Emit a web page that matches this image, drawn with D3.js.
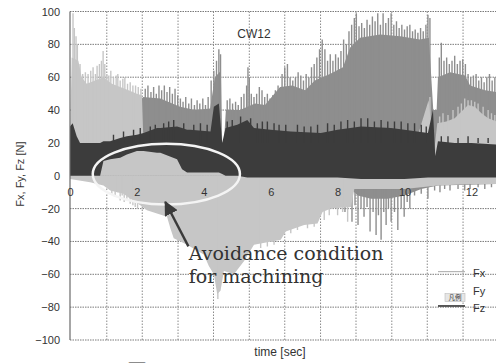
<!DOCTYPE html>
<html>
<head>
<meta charset="utf-8">
<script src="https://cdn.jsdelivr.net/npm/d3@7"></script>
<style>
  body { margin: 0; background: #fff; }
  svg { display: block; }
  text { font-family: Arial, "Liberation Sans", sans-serif; fill: #333; }
</style>
</head>
<body>
<svg id="chart" width="496" height="363"></svg>
<script>
// tick labels
const yTicks = [100, 80, 60, 40, 20, 0, -20, -40, -60, -80, -100]
const xTicks = [0, 2, 4, 6, 8, 10, 12]
// vertical grid lines (they do not fall on the labelled ticks in the original)
const gridTimes = [1.1, 2.16, 3.23, 4.29, 5.36, 6.42, 7.49, 8.55, 9.62, 10.68, 11.75]

// Fx envelope [time, N]
const fxHigh = [[0, 20], [0.3, 40], [2.1, 45], [2.18, 48], [2.7, 47], [3.29, 42], [3.74, 40], [4.19, 41],
  [4.33, 60], [4.51, 64], [4.55, 20], [4.6, 20], [4.66, 40], [5.08, 40], [5.53, 44], [5.83, 43],
  [6.28, 54], [6.64, 55], [7.03, 52], [7.32, 58], [7.77, 62], [8.16, 66], [8.37, 78], [8.67, 84],
  [9.27, 86], [9.87, 85], [10.46, 83], [10.73, 84], [10.8, 60], [10.86, 40], [10.96, 40], [11.0, 60],
  [11.36, 63], [11.81, 61], [11.96, 55], [12.41, 52], [12.75, 51]]
const fxLow = [[0, 0], [8.2, 0], [8.4, -8], [8.6, -12], [9.0, -14], [9.5, -14], [10.0, -12],
  [10.5, -8], [11.0, -6], [12.75, -5]]
const fxPeaks = [[2.25, 53], [2.33, 55], [2.42, 51], [2.5, 54], [2.58, 50], [2.66, 55], [2.74, 52],
  [2.82, 55], [2.9, 51], [2.98, 54], [3.06, 50], [3.14, 53], [3.22, 49], [3.3, 47], [3.38, 45],
  [3.46, 48], [3.55, 44], [3.63, 47], [3.72, 43], [3.8, 46], [3.88, 44], [3.97, 47], [4.05, 43],
  [4.13, 48], [4.22, 58], [4.3, 64], [4.38, 70], [4.45, 77], [4.5, 74], [4.7, 46], [4.78, 47],
  [4.86, 44], [4.95, 45], [5.03, 43], [5.12, 48], [5.2, 50], [5.28, 55], [5.32, 66], [5.36, 60],
  [5.42, 50], [5.5, 48], [5.58, 50], [5.66, 54], [5.74, 52], [5.82, 48], [5.9, 50], [5.98, 47],
  [6.06, 49], [6.14, 52], [6.22, 55], [6.34, 62], [6.42, 66], [6.5, 68], [6.58, 60], [6.66, 58],
  [6.74, 60], [6.82, 63], [6.9, 61], [6.98, 58], [7.06, 62], [7.14, 60], [7.22, 66], [7.3, 68],
  [7.38, 72], [7.46, 77], [7.54, 83], [7.62, 77], [7.7, 70], [7.78, 74], [7.86, 70], [7.94, 74],
  [8.02, 72], [8.1, 76], [8.18, 83], [8.26, 80], [8.34, 88], [8.42, 92], [8.5, 96], [8.56, 99],
  [8.64, 91], [8.72, 93], [8.8, 90], [8.88, 95], [8.96, 92], [9.04, 97], [9.12, 94], [9.2, 99],
  [9.28, 92], [9.36, 99], [9.44, 93], [9.52, 96], [9.6, 99], [9.68, 92], [9.76, 94], [9.84, 90],
  [9.92, 92], [10.0, 89], [10.08, 91], [10.16, 92], [10.24, 88], [10.32, 89], [10.4, 87],
  [10.48, 90], [10.56, 88], [10.64, 92], [10.7, 98], [10.76, 96], [11.04, 72], [11.1, 81],
  [11.18, 70], [11.26, 72], [11.34, 68], [11.42, 70], [11.5, 73], [11.58, 68], [11.66, 70],
  [11.74, 71], [11.82, 68], [11.9, 62], [11.98, 60], [12.06, 61], [12.14, 62], [12.22, 58],
  [12.3, 60], [12.38, 57], [12.46, 60], [12.54, 62], [12.62, 58], [12.7, 60]]
const fxDips = [[8.22, -22], [8.3, -16], [8.43, -28], [8.52, -18], [8.61, -30], [8.7, -20],
  [8.79, -25], [8.88, -19], [8.97, -34], [9.06, -22], [9.15, -36], [9.22, -24], [9.3, -39],
  [9.38, -22], [9.45, -30], [9.52, -20], [9.6, -28], [9.7, -22], [9.8, -33], [9.9, -20],
  [9.99, -25], [10.08, -16], [10.16, -20], [10.3, -12], [10.5, -11], [10.7, -14], [10.9, -9],
  [11.06, -10], [11.2, -8], [11.36, -9], [11.6, -8], [11.8, -9], [11.96, -8], [12.2, -7],
  [12.4, -8], [12.6, -7]]

// Fy envelope [time, N]
const fyHigh = [[0, 20], [0.05, 72], [0.25, 70], [0.35, 60], [0.5, 56], [0.75, 58], [1.0, 60],
  [1.25, 56], [1.5, 54], [1.75, 52], [2.0, 50], [2.15, 49], [2.2, 17], [10.3, 17], [10.45, 28],
  [10.6, 38], [10.72, 46], [10.8, 30], [10.86, 10], [10.98, 32], [11.25, 33], [11.5, 35],
  [11.75, 40], [11.9, 43], [12.1, 42], [12.3, 38], [12.5, 35], [12.75, 33]]
const fyLow = [[0, -2], [0.6, -4], [1.0, -6], [1.2, -9], [1.6, -11], [1.8, -14], [2.1, -18],
  [2.3, -21], [2.9, -25], [3.0, -32], [3.1, -38], [3.5, -42], [4.0, -48], [4.15, -55], [4.3, -60],
  [4.4, -72], [4.5, -70], [4.6, -58], [4.9, -60], [5.2, -52], [5.5, -42], [6.3, -39], [6.45, -34],
  [7.0, -30], [7.4, -29], [7.55, -22], [7.8, -20], [8.4, -19], [8.5, -8], [10.0, -8], [11.0, -6],
  [12.0, -5], [12.75, -5]]
const fyPeaks = [[0.09, 99], [0.13, 90], [0.18, 85], [0.22, 80], [0.3, 68], [0.38, 62], [0.46, 63],
  [0.54, 62], [0.62, 64], [0.69, 66], [0.76, 62], [0.81, 67], [0.88, 68], [0.94, 70], [0.99, 76],
  [1.04, 68], [1.1, 62], [1.16, 61], [1.22, 64], [1.3, 60], [1.38, 61], [1.43, 62], [1.5, 58],
  [1.58, 59], [1.64, 60], [1.72, 56], [1.8, 57], [1.88, 55], [1.96, 55], [2.04, 54], [2.12, 53],
  [10.76, 48], [11.05, 36], [11.15, 38], [11.3, 37], [11.45, 40], [11.6, 42], [11.7, 44],
  [11.8, 47], [11.9, 46], [12.0, 46], [12.1, 45], [12.2, 44], [12.35, 42], [12.5, 40],
  [12.6, 38], [12.7, 37]]
const fyDips = [[1.25, -11], [1.35, -13], [1.42, -10], [1.5, -15], [1.56, -12], [1.62, -16],
  [1.7, -14], [1.8, -17], [1.88, -18], [1.95, -19], [2.02, -20], [4.42, -75], [5.7, -44],
  [5.9, -43], [6.1, -42], [6.6, -35], [6.8, -33], [7.1, -32], [7.3, -31], [7.6, -27], [7.75, -24],
  [8.0, -24], [8.15, -22], [8.3, -28]]

// Fz band [time], [high], [low]
const fzTime = [0, 0.08, 0.2, 0.3, 0.75, 0.9, 1.0, 1.2, 1.5, 1.7, 2.0, 2.2, 2.6, 2.7, 3.2, 3.35,
  3.5, 3.6, 4.2, 4.3, 4.45, 4.55, 4.65, 5.0, 5.3, 5.5, 6.0, 6.6, 7.5, 8.0, 8.7, 9.6, 10.0, 10.7,
  10.85, 10.92, 11.0, 11.5, 12.0, 12.75]
const fzHigh = [30, 32, 24, 20, 20, 20, 21, 21, 23, 24, 25, 26, 29, 29, 30, 29, 28, 28, 27, 42,
  44, 20, 29, 31, 34, 29, 28, 27, 26, 28, 30, 29, 28, 26, 40, 12, 21, 20, 20, 19]
const fzLow = [0, 0, 0, 0, 0, 0, 9, 10, 11, 13, 15, 15, 14, 14, 10, 4, 2, 2, 2, 2, 2, 1, 0, 0, -1,
  -1, -1, -1, -1, -1, -2, -2, -2, -1, -1, -1, -1, -1, -1, -1]
const fzPeaks = [[1.3, 25], [1.6, 27], [1.9, 28], [2.1, 29], [2.4, 30], [2.55, 31], [2.8, 32],
  [2.95, 33], [3.1, 34], [3.4, 32], [3.7, 31], [3.9, 32], [4.1, 31], [4.7, 33], [4.85, 34],
  [5.1, 36], [5.4, 35], [5.6, 32], [5.75, 33], [5.9, 33], [6.1, 32], [6.25, 31], [6.45, 31],
  [6.8, 31], [7.0, 30], [7.2, 30], [7.4, 31], [7.7, 32], [7.9, 31], [8.1, 33], [8.3, 34],
  [8.5, 33], [8.7, 35], [8.9, 35], [9.1, 33], [9.3, 34], [9.5, 33], [9.7, 33], [9.9, 33],
  [10.1, 32], [10.3, 32], [10.5, 31], [10.65, 30], [11.1, 24], [11.3, 24], [11.6, 23],
  [11.9, 24], [12.2, 23], [12.5, 23]]

const series = ['Fx', 'Fy', 'Fz']
const colors = { Fx: '#8e8e8e', Fy: '#c6c6c6', Fz: '#3c3c3c' }

const svg = d3.select('#chart')
const plot = { left: 70, right: 496.5, top: 11.5, bottom: 340 }

const x = d3.scaleLinear().domain([0, 12.75]).range([plot.left, plot.right])
const y = d3.scaleLinear().domain([-100, 100]).range([plot.bottom, plot.top])

svg.append('clipPath').attr('id', 'clip')
  .append('rect')
  .attr('x', plot.left).attr('y', plot.top)
  .attr('width', plot.right - plot.left).attr('height', plot.bottom - plot.top)

// grid
const grid = svg.append('g')
grid.selectAll('.hgrid')
  .data(yTicks)
  .join('line')
  .attr('x1', plot.left).attr('x2', plot.right)
  .attr('y1', (d) => y(d)).attr('y2', (d) => y(d))
  .attr('stroke', '#7a7a7a')
  .attr('stroke-width', 1)
  .attr('stroke-dasharray', '1.5,1')
grid.selectAll('.vgrid')
  .data(gridTimes)
  .join('line')
  .attr('x1', (d) => x(d)).attr('x2', (d) => x(d))
  .attr('y1', plot.top).attr('y2', plot.bottom)
  .attr('stroke', '#8a8a8a')
  .attr('stroke-width', 1)
  .attr('stroke-dasharray', '1.5,1.5')

const data = svg.append('g').attr('clip-path', 'url(#clip)')

const fromZero = d3.area()
  .x((d) => x(d[0]))
  .y0(y(0))
  .y1((d) => y(d[1]))

const spikes = (g, pts, color, base) => {
  g.selectAll(null)
    .data(pts)
    .join('line')
    .attr('x1', (d) => x(d[0])).attr('x2', (d) => x(d[0]))
    .attr('y1', y(base)).attr('y2', (d) => y(d[1]))
    .attr('stroke', color)
    .attr('stroke-width', 1.4)
}

// Fx
data.append('path').datum(fxHigh).attr('fill', colors.Fx).attr('d', fromZero)
data.append('path').datum(fxLow).attr('fill', colors.Fx).attr('d', fromZero)
spikes(data, fxPeaks, colors.Fx, 0)
spikes(data, fxDips, colors.Fx, 0)

// Fy
data.append('path').datum(fyHigh).attr('fill', colors.Fy).attr('d', fromZero)
data.append('path').datum(fyLow).attr('fill', colors.Fy).attr('d', fromZero)
spikes(data, fyPeaks, colors.Fy, 20)
spikes(data, fyDips, colors.Fy, 0)

// Fz band
const fzBand = d3.area()
  .x((d, i) => x(fzTime[i]))
  .y0((d, i) => y(fzLow[i]))
  .y1((d) => y(d))
data.append('path').datum(fzHigh).attr('fill', colors.Fz).attr('d', fzBand)
spikes(data, fzPeaks, colors.Fz, 20)

// frame
svg.append('line')
  .attr('x1', plot.left).attr('x2', plot.left)
  .attr('y1', plot.top).attr('y2', plot.bottom)
  .attr('stroke', '#6a6a6a').attr('stroke-width', 1.2)

// y axis labels
svg.append('g')
  .attr('transform', `translate(${plot.left},0)`)
  .call(d3.axisLeft(y).tickValues(yTicks).tickSize(0).tickPadding(10))
  .call((g) => g.select('.domain').remove())
  .selectAll('text')
  .style('font-size', '11px')
  .style('font-family', 'Arial, "Liberation Sans", sans-serif')
  .attr('fill', '#2a2a2a')

// x axis labels, sitting on the zero line
svg.append('g')
  .attr('transform', `translate(0,${y(0)})`)
  .call(d3.axisBottom(x).tickValues(xTicks).tickSize(0).tickPadding(12))
  .call((g) => g.select('.domain').remove())
  .selectAll('text')
  .style('font-size', '11px')
  .style('font-family', 'Arial, "Liberation Sans", sans-serif')
  .attr('fill', '#2a2a2a')

// titles
svg.append('text')
  .attr('transform', `translate(24,${y(1)}) rotate(-90)`)
  .attr('text-anchor', 'middle')
  .style('font-size', '11px')
  .text('Fx, Fy, Fz [N]')

svg.append('text')
  .attr('x', 280).attr('y', 356)
  .attr('text-anchor', 'middle')
  .style('font-size', '12px')
  .text('time [sec]')

svg.append('text')
  .attr('x', 254).attr('y', 38)
  .attr('text-anchor', 'middle')
  .style('font-size', '12px')
  .text('CW12')

// caption cut off at the bottom edge, as in the scan
svg.append('text')
  .attr('x', 137).attr('y', 379)
  .attr('text-anchor', 'middle')
  .style('font-size', '20px')
  .style('font-family', '"Noto Sans CJK JP", sans-serif')
  .text('図')

// annotation: ellipse, arrow and note
const ellipse = { t: 2.88, v: 1, rt: 2.2, rv: 18.5 }
svg.append('ellipse')
  .attr('cx', x(ellipse.t)).attr('cy', y(ellipse.v))
  .attr('rx', x(ellipse.rt) - x(0)).attr('ry', y(0) - y(ellipse.rv))
  .attr('fill', 'none')
  .attr('stroke', '#f4f4f4')
  .attr('stroke-width', 2.5)

const arrow = { from: [3.54, -43], to: [2.85, -16] }
svg.append('defs').append('marker')
  .attr('id', 'head')
  .attr('viewBox', '0 0 10 10')
  .attr('refX', 9).attr('refY', 5)
  .attr('markerWidth', 6).attr('markerHeight', 6)
  .attr('markerUnits', 'strokeWidth')
  .attr('orient', 'auto')
  .append('path')
  .attr('d', 'M0,0L10,5L0,10z')
  .attr('fill', '#3a3a3a')
svg.append('line')
  .attr('x1', x(arrow.from[0])).attr('y1', y(arrow.from[1]))
  .attr('x2', x(arrow.to[0])).attr('y2', y(arrow.to[1]))
  .attr('stroke', '#3a3a3a')
  .attr('stroke-width', 2.4)
  .attr('marker-end', 'url(#head)')

const note = svg.append('text')
  .attr('x', x(3.55))
  .style('font-family', '"DejaVu Serif", "Liberation Serif", serif')
  .style('font-size', '19px')
  .attr('fill', '#2e2e2e')
note.append('tspan').attr('x', x(3.55)).attr('y', y(-51)).text('Avoidance condition')
note.append('tspan').attr('x', x(3.55)).attr('y', y(-65.5)).text('for machining')

// legend
const legendY = { Fx: -59, Fy: -70.5, Fz: -80.5 }
const legend = svg.append('g')
legend.selectAll('.lt')
  .data(series)
  .join('text')
  .attr('x', 473)
  .attr('y', (d) => y(legendY[d]))
  .attr('dy', '0.35em')
  .style('font-size', '11px')
  .text((d) => d)
legend.append('line')
  .attr('x1', 438).attr('x2', 465)
  .attr('y1', y(legendY.Fx) - 1).attr('y2', y(legendY.Fx) - 1)
  .attr('stroke', '#a8a8a8').attr('stroke-width', 1)
legend.append('rect')
  .attr('x', 445).attr('y', y(legendY.Fy) + 2)
  .attr('width', 20).attr('height', 8)
  .attr('fill', '#e6e6e6').attr('stroke', '#bdbdbd').attr('stroke-width', 0.6)
legend.append('text')
  .attr('x', 455).attr('y', y(legendY.Fy) + 8.5)
  .attr('text-anchor', 'middle')
  .style('font-size', '6.5px')
  .style('font-family', '"Noto Sans CJK JP", sans-serif')
  .attr('fill', '#888')
  .text('凡例')
legend.append('line')
  .attr('x1', 438).attr('x2', 465)
  .attr('y1', y(legendY.Fz) - 2).attr('y2', y(legendY.Fz) - 2)
  .attr('stroke', '#333').attr('stroke-width', 1.6)
</script>
</body>
</html>
